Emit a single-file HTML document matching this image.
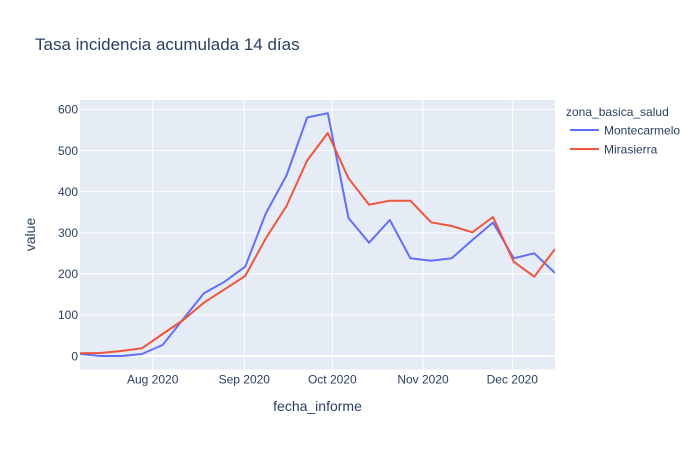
<!DOCTYPE html>
<html><head><meta charset="utf-8"><style>
html,body{margin:0;padding:0;background:#fff;}
svg{display:block;font-family:"Liberation Sans",sans-serif;}
</style></head><body>
<svg width="700" height="450" viewBox="0 0 700 450" xmlns="http://www.w3.org/2000/svg">
<defs><clipPath id="c"><rect x="80" y="100" width="475" height="269.5"/></clipPath></defs>
<rect x="0" y="0" width="700" height="450" fill="#fff"/>
<rect x="80" y="100" width="475" height="269.5" fill="#E5ECF6"/>
<g stroke="#fff" stroke-width="1">
<line x1="80" x2="555" y1="314.9" y2="314.9"/>
<line x1="80" x2="555" y1="273.8" y2="273.8"/>
<line x1="80" x2="555" y1="232.7" y2="232.7"/>
<line x1="80" x2="555" y1="191.6" y2="191.6"/>
<line x1="80" x2="555" y1="150.5" y2="150.5"/>
<line x1="80" x2="555" y1="109.4" y2="109.4"/>
<line x1="152.7" x2="152.7" y1="100" y2="369.5"/>
<line x1="244.3" x2="244.3" y1="100" y2="369.5"/>
<line x1="332.3" x2="332.3" y1="100" y2="369.5"/>
<line x1="423" x2="423" y1="100" y2="369.5"/>
<line x1="512.3" x2="512.3" y1="100" y2="369.5"/>
</g>
<line x1="80" x2="555" y1="356" y2="356" stroke="#fff" stroke-width="2"/>
<g clip-path="url(#c)" fill="none" stroke-width="2" stroke-linejoin="round">
<polyline stroke="#636efa" points="80,354 100.65,356 121.3,356 141.96,354 162.6,345 183.26,319 203.9,293.3 224.57,281.7 245.2,266.7 265.87,213.3 286.5,175.5 307.17,117.5 327.8,113.2 348.5,218 369.1,242.7 389.8,220 410.4,258.3 431.1,260.7 451.7,258.3 472.4,240 493,222.5 513.7,258.3 534.3,253.3 555,273"/>
<polyline stroke="#EF553B" points="80,353.3 100.65,353 121.3,351 141.96,348.3 162.6,334 183.26,320 203.9,302.7 224.57,289.3 245.2,276 265.87,238.3 286.5,206 307.17,160.5 327.8,133 348.5,178.3 369.1,204.7 389.8,200.7 410.4,200.7 431.1,222.3 451.7,226 472.4,232.3 493,217 513.7,261.7 534.3,276.7 555,249"/>
</g>
<g fill="#2a3f5f" font-size="12" text-anchor="end">
<text x="78" y="360.3">0</text>
<text x="78" y="319.2">100</text>
<text x="78" y="278.1">200</text>
<text x="78" y="237">300</text>
<text x="78" y="195.9">400</text>
<text x="78" y="154.8">500</text>
<text x="78" y="113.7">600</text>
</g>
<g fill="#2a3f5f" font-size="12" text-anchor="middle">
<text x="152.7" y="383.5">Aug 2020</text>
<text x="244.3" y="383.5">Sep 2020</text>
<text x="332.3" y="383.5">Oct 2020</text>
<text x="423" y="383.5">Nov 2020</text>
<text x="512.3" y="383.5">Dec 2020</text>
</g>
<text x="317.5" y="411" fill="#2a3f5f" font-size="14" text-anchor="middle">fecha_informe</text>
<text transform="translate(35,234.5) rotate(-90)" fill="#2a3f5f" font-size="14" text-anchor="middle">value</text>
<text x="35" y="50" fill="#2a3f5f" font-size="17">Tasa incidencia acumulada 14 días</text>
<text x="566" y="116" fill="#2a3f5f" font-size="12">zona_basica_salud</text>
<line x1="570" x2="599" y1="130" y2="130" stroke="#636efa" stroke-width="2"/>
<text x="604" y="134.3" fill="#2a3f5f" font-size="12">Montecarmelo</text>
<line x1="570" x2="599" y1="149" y2="149" stroke="#EF553B" stroke-width="2"/>
<text x="604" y="153.3" fill="#2a3f5f" font-size="12">Mirasierra</text>
</svg>
</body></html>
